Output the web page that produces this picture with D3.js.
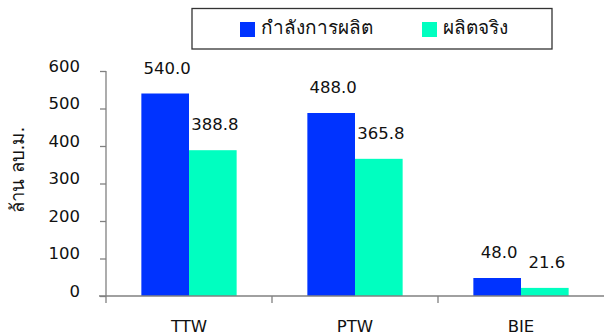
<!DOCTYPE html>
<html>
<head>
<meta charset="utf-8">
<script src="https://cdn.jsdelivr.net/npm/d3@7"></script>
<style>
  body { margin: 0; background: #fff; }
  svg { display: block; font-family: "DejaVu Sans", "Noto Sans", sans-serif; }
</style>
</head>
<body>
<svg id="chart" width="604" height="335"></svg>
<script>
// ค่าจากกราฟ (ล้าน ลบ.ม.)
var categories = ["TTW", "PTW", "BIE"];
var seriesNames = ["กำลังการผลิต", "ผลิตจริง"];
var capacity = [540.0, 488.0, 48.0];
var actual = [388.8, 365.8, 21.6];
var yTicks = [0, 100, 200, 300, 400, 500, 600];
var colors = ["#0033ff", "#00ffc0"];

var rows = categories.map(function (c, i) {
    return { cat: c, values: [capacity[i], actual[i]] };
});

var svg = d3.select("#chart");
// note: "top" is window.top, so use other names
var pLeft = 106, pRight = 604, pTop = 71, pBottom = 296;

var x0 = d3.scaleBand().domain(categories).range([pLeft, pRight])
    .paddingInner(0.426).paddingOuter(0.213);
var x1 = d3.scaleBand().domain([0, 1]).range([0, x0.bandwidth()]);
var y = d3.scaleLinear().domain([0, 600]).range([pBottom, pTop]);

// bars
var groups = svg.append("g").selectAll("g").data(rows).enter().append("g")
    .attr("transform", function (d) { return "translate(" + x0(d.cat) + ",0)"; });

groups.selectAll("rect").data(function (d) { return d.values; }).enter().append("rect")
    .attr("x", function (d, i) { return x1(i); })
    .attr("y", function (d) { return y(d); })
    .attr("width", x1.bandwidth())
    .attr("height", function (d) { return y(0) - y(d); })
    .attr("fill", function (d, i) { return colors[i]; });

groups.selectAll("text").data(function (d) { return d.values; }).enter().append("text")
    .attr("x", function (d, i) { return x1(i) + x1.bandwidth() / 2 + 2; })
    .attr("y", function (d) { return y(d) - 20; })
    .attr("text-anchor", "middle")
    .attr("font-size", 16.5)
    .attr("fill", "#111")
    .text(function (d) { return d.toFixed(1); });

// y axis
var yAxis = d3.axisLeft(y).tickValues(yTicks).tickSize(6).tickPadding(20);
var gy = svg.append("g").attr("transform", "translate(" + pLeft + ",0)").call(yAxis);
gy.select(".domain").remove();
gy.append("line").attr("x1", 0).attr("x2", 0).attr("y1", pTop).attr("y2", pBottom + 7)
    .attr("stroke", "#808080").attr("stroke-width", 1.3);
gy.selectAll(".tick line").attr("stroke", "#808080").attr("stroke-width", 1.3);
gy.selectAll(".tick text").attr("font-size", 16.5).attr("fill", "#111")
    .attr("font-family", "DejaVu Sans").attr("dy", "0.0em");

// x axis
var gx = svg.append("g").attr("transform", "translate(0," + pBottom + ")");
gx.append("line").attr("x1", pLeft - 7).attr("x2", pRight).attr("y1", 0).attr("y2", 0)
    .attr("stroke", "#808080").attr("stroke-width", 1.3);
gx.selectAll("line.sep").data(categories.slice(1)).enter().append("line")
    .attr("class", "sep")
    .attr("x1", function (d) { return x0(d) - x0.step() * x0.paddingInner() / 2; })
    .attr("x2", function (d) { return x0(d) - x0.step() * x0.paddingInner() / 2; })
    .attr("y1", 0).attr("y2", 7)
    .attr("stroke", "#808080").attr("stroke-width", 1.3);
gx.selectAll("text").data(categories).enter().append("text")
    .attr("x", function (d) { return x0(d) + x0.bandwidth() / 2; })
    .attr("y", 36)
    .attr("text-anchor", "middle")
    .attr("font-size", 16.5)
    .attr("fill", "#111")
    .text(function (d) { return d; });

// y title
svg.append("text")
    .attr("transform", "translate(24,170) rotate(-90)")
    .attr("text-anchor", "middle")
    .attr("font-size", 18.5)
    .attr("fill", "#111")
    .text("ล้าน ลบ.ม.");

// legend
var lg = svg.append("g");
lg.append("rect").attr("x", 192).attr("y", 8.5).attr("width", 360).attr("height", 40.5)
    .attr("fill", "#fff").attr("stroke", "#333").attr("stroke-width", 1.3);
var legX = [240, 422];
seriesNames.forEach(function (n, i) {
    lg.append("rect").attr("x", legX[i]).attr("y", 22).attr("width", 15).attr("height", 15)
        .attr("fill", colors[i]);
    lg.append("text").attr("x", legX[i] + 21).attr("y", 34)
        .attr("font-size", 19).attr("fill", "#111").text(n);
});
</script>
</body>
</html>
